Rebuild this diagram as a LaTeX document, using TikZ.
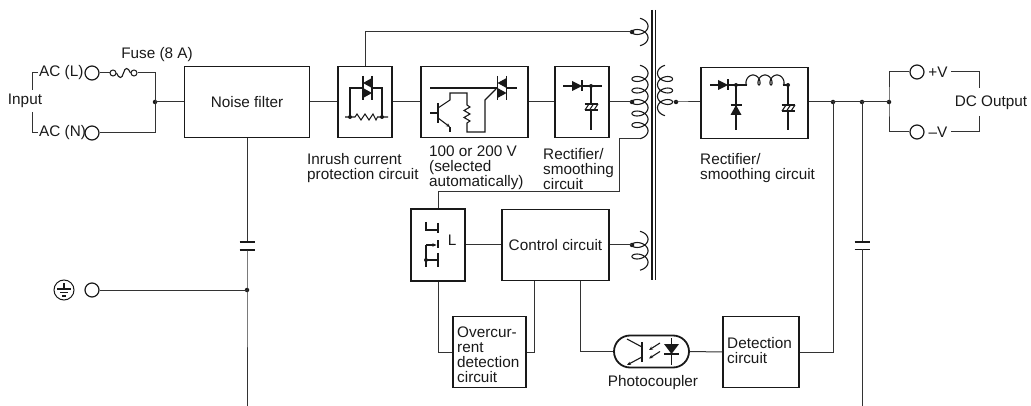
\documentclass[tikz,border=0pt]{standalone}
\usepackage{fontspec}
\setmainfont{Liberation Sans}
\usetikzlibrary{arrows.meta}
\newcommand\mytriac[1]{%
  \begin{scope}[shift={#1}]
    \draw[sym] (-4.5,-12) -- (-4.5,12);
    \draw[sym] (4.5,-12) -- (4.5,12);
    \fill[black!90] (4.5,-10) -- (4.5,0) -- (-4.5,-5) -- cycle;
    \fill[black!90] (-4.5,0) -- (-4.5,10) -- (4.5,5) -- cycle;
  \end{scope}}
\newcommand\myhcap[1]{%
  \begin{scope}[shift={#1}]
    \draw[sym] (-6.5,0) -- (6.5,0);
    \draw[sym] (-6.5,6) -- (6.5,6);
    \draw[sym] (-6,6) -- (-2,0);
    \draw[sym] (-1.5,6) -- (2.5,0);
    \draw[sym] (3,6) -- (7,0);
  \end{scope}}
\begin{document}
\begin{tikzpicture}[x=1pt,y=-1pt,
  box/.style={draw=black!90, line width=1.8pt, inner sep=0pt},
  wire/.style={draw=black!80, line width=1pt},
  sym/.style={draw=black!90, line width=1.1pt},
  bar/.style={draw=black!90, line width=1.8pt},
  term/.style={circle, draw=black!90, line width=1.2pt, minimum size=14pt, inner sep=0pt},
  small/.style={circle, draw=black!90, line width=1pt, minimum size=6pt, inner sep=0pt},
  lbl/.style={font=\fontsize{15.3}{15}\selectfont, inner sep=0pt, align=left, text=black!90},
  dotn/.style={circle, fill=black!90, minimum size=4.5pt, inner sep=0pt},
  tip/.style={-{Stealth[length=4pt,width=3.5pt]}},
]
\useasboundingbox (0,0) rectangle (1031,406);

% ---------- input side ----------
\node[lbl] (inp) at (25,101) {Input};
\node[lbl, anchor=west] (tacl) at (39,73) {AC (L)};
\node[lbl, anchor=west] (tacn) at (39,133) {AC (N)};
\draw[wire] (38,73) -- (32,73) -- (32,90);
\draw[wire] (32,112) -- (32,133) -- (38,133);
\node[term] (acl) at (92,73) {};
\node[term] (acn) at (92,133) {};
\node[small] (f1) at (113,73) {};
\node[small] (f2) at (134,73) {};
\node[lbl] (fuse) at (157,55) {Fuse (8 A)};
\draw[wire] (acl.east) -- (f1.west);
\draw[sym] (f1.east) .. controls (119,79) and (122,79) .. (123.5,73) .. controls (125,67) and (128,67) .. (f2.west);
\coordinate (ft) at (155,73);
\node[dotn] (j1) at (155,102) {};
\draw[wire] (f2.east) -- (ft) -- (j1.center);
\draw[wire] (j1.center) |- (acn.east);

% ---------- boxes ----------
\node[box, lbl, minimum width=125pt, minimum height=71pt] (nf) at (247,102) {Noise filter};
\node[box, minimum width=54pt, minimum height=71pt] (inr) at (365,102) {};
\node[box, minimum width=107pt, minimum height=71pt] (sel) at (474.5,102) {};
\node[box, minimum width=54pt, minimum height=71pt] (rec1) at (582,102) {};
\node[box, minimum width=107pt, minimum height=71pt] (rec2) at (754.5,103) {};
\node[box, minimum width=54pt, minimum height=72pt] (lbox) at (438,245) {};
\node[box, lbl, minimum width=107pt, minimum height=71pt] (ctrl) at (555.5,245) {\raisebox{-4pt}{Control circuit}};
\node[box, minimum width=73pt, minimum height=71pt] (oc) at (489.5,352) {};
\node[box, minimum width=75pt, minimum height=32pt, rounded corners=16pt] (pc) at (651.5,351.5) {};
\node[box, minimum width=76pt, minimum height=71pt] (det) at (761,352) {};

\node[lbl, anchor=west] (toc) at (457,355) {Overcur-\\rent\\detection\\circuit};
\node[lbl, anchor=west] (tdet) at (727,351) {Detection\\circuit};
\node[lbl] (tpc) at (653,383) {Photocoupler};
\node[lbl, anchor=west] (tinr) at (307,168) {Inrush current\\protection circuit};
\node[lbl, anchor=west] (tsel) at (429,168) {100 or 200 V\\(selected\\automatically)};
\node[lbl, anchor=west] (trec1) at (543,169) {Rectifier/\\smoothing\\circuit};
\node[lbl, anchor=west] (trec2) at (700,168) {Rectifier/\\smoothing circuit};

% ---------- main chain ----------
\draw[wire] (j1.center) -- (nf.west);
\draw[wire] (nf.east) -- (inr.west);
\draw[wire] (inr.east) -- (sel.west);
\draw[wire] (sel.east) -- (rec1.west);
\node[dotn] (pd) at (632,102) {};
\draw[wire] (rec1.east) -- (pd.center);
\node[dotn] (ad) at (632,32) {};
\draw[wire] (inr.north) |- (ad.center);

% ---------- earth / noise filter leg ----------
\node[circle, draw=black!90, line width=1pt, minimum size=20pt, inner sep=0pt] (pe) at (64,290) {};
\draw[sym] (64,283) -- (64,289);
\draw[sym] (57,289) -- (71,289);
\draw[sym] (60,292.5) -- (68,292.5);
\draw[sym] (62,296) -- (66,296);
\node[term] (ge) at (92,290) {};
\node[dotn] (jg) at (247,290) {};
\coordinate (ca) at (247,242);
\coordinate (cb) at (247,250);
\coordinate (nb) at (247,406);
\draw[wire] (nf.south) -- (ca);
\draw[bar] (239.5,242) -- (254.5,242);
\draw[bar] (239.5,250) -- (254.5,250);
\draw[wire] (cb) -- (jg.center) -- (nb);
\draw[wire] (ge.east) -- (jg.center);

% ---------- transformer ----------
\draw[line width=1.4pt, black!90] (652,10) -- (652,280);
\draw[line width=1.4pt, black!90] (655.7,10) -- (655.7,280);
\draw[sym] plot[domain=-270:270, samples=120, variable=\t] ({640-8*cos(\t)}, {32+0.0319444*\t-5*sin(\t)});
\draw[sym] plot[domain=-270:1710, samples=400, variable=\t] ({640-8*cos(\t)}, {79+0.0319444*\t-5*sin(\t)});
\draw[sym] plot[domain=-270:630, samples=200, variable=\t] ({640-8*cos(\t)}, {245+0.0319444*\t-5*sin(\t)});
\draw[sym] plot[domain=-270:990, samples=260, variable=\t] ({665+7.5*cos(\t)}, {79+0.0319444*\t-5*sin(\t)});
\coordinate (pb) at (640,138.6);
\coordinate (r1) at (619,192);
\draw[wire] (pb) -| (r1) -| (lbox.north);
\node[dotn] (sd) at (676,102) {};
\draw[wire] (672.5,102) -- (sd.center) -- (sd.center -| rec2.west);
\node[dotn] (cd) at (632,245) {};
\draw[wire] (lbox.east) -- (ctrl.west);
\draw[wire] (ctrl.east) -- (cd.center);

% ---------- control section ----------
\draw[wire] (lbox.south) |- (oc.west);
\coordinate (c1) at (534,280.5);
\coordinate (c2) at (580,280.5);
\draw[wire] (oc.east) -| (c1);
\draw[wire] (c2) |- (pc.west);
\draw[wire] (pc.east) -- (det.west);

% ---------- output ----------
\node[dotn] (d1) at (833,102) {};
\node[dotn] (d2) at (862,102) {};
\node[dotn] (d3) at (889,102) {};
\draw[wire] (d3.center -| rec2.east) -- (d3.center);
\draw[wire] (det.east) -| (d1.center);
\draw[wire] (d2.center) -- (862,242);
\draw[bar] (854.5,242) -- (869.5,242);
\draw[bar] (854.5,249.5) -- (869.5,249.5);
\draw[wire] (862,249.5) -- (862,406);
\node[term] (vp) at (917,72) {};
\node[term] (vm) at (917,132) {};
\draw[wire] (vp.west) -| (d3.center) |- (vm.west);
\node[lbl] (tvp) at (938,72) {+V};
\node[lbl] (tvm) at (938,132) {\char"2013V};
\node[lbl] (tdc) at (991,103) {DC Output};
\draw[wire] (951,72) -- (979,72) -- (979,88);
\draw[wire] (979,116) -- (979,132) -- (951,132);

% ---------- inrush internals ----------
\mytriac{(367.5,88)}
\draw[sym] (363,88) -- (350,88) -- (350,117);
\draw[sym] (372,88) -- (382,88) -- (382,117);
\draw[sym] (345,117) -- (355,117) -- (357,114) -- (361,120) -- (365,114) -- (369,120) -- (373,114) -- (376,120) -- (377.5,117) -- (388,117);
\fill[black!90] (350,117) circle (2pt) (382,117) circle (2pt);

% ---------- 100/200 V internals ----------
\mytriac{(502,88)}
\draw[sym] (430,88) -- (497.5,88);
\draw[sym] (506.5,88) -- (517,88);
\draw[bar] (438,103) -- (438,123);
\draw[sym] (430,113) -- (438,113);
\draw[sym] (438,108) -- (450,100) -- (450,93) -- (467,93) -- (467,105) -- (470,107) -- (464,110.5) -- (470,114) -- (464,117.5) -- (470,121) -- (467,123) -- (467,132) -- (485,132) -- (485,100) -- (496,89);
\draw[sym, tip] (438,118) -- (450,127);
\draw[sym] (450,127) -- (450,132);

% ---------- rectifier 1 internals ----------
\draw[sym] (563,86) -- (572,86);
\fill[black!90] (572,81) -- (572,91) -- (582,86) -- cycle;
\draw[bar] (582,80.5) -- (582,91.5);
\draw[sym] (582,86) -- (602,86);
\fill[black!90] (591,86) circle (2pt);
\draw[sym] (591,86) -- (591,104);
\draw[sym] (591,110) -- (591,130);
\myhcap{(591,104)}

% ---------- rectifier 2 internals ----------
\draw[sym] (710,85) -- (718,85);
\fill[black!90] (718,80) -- (718,90) -- (728,85) -- cycle;
\draw[bar] (728,79.5) -- (728,90.5);
\draw[sym] (728,85) -- (747,85);
\fill[black!90] (736,85) circle (2pt);
\draw[sym] (736,85) -- (736,130);
\fill[black!90] (730.5,115) -- (741.5,115) -- (736,105) -- cycle;
\draw[bar] (730.5,105) -- (741.5,105);
\draw[sym] plot[domain=0:1080, samples=200, variable=\t] ({747+0.0333333*\t-3.5*sin(\t)}, {85-5*(1-cos(\t))});
\draw[sym] (783,85) -- (788,85);
\fill[black!90] (788,85) circle (2pt);
\draw[sym] (788,85) -- (788,105);
\draw[sym] (788,111) -- (788,130);
\myhcap{(788,105)}

% ---------- L box internals ----------
\draw[bar] (438,223) -- (438,233);
\draw[bar] (438,240.5) -- (438,248.5);
\draw[bar] (438,253) -- (438,267);
\draw[sym] (426,222) -- (426,230) -- (437,230);
\draw[sym, tip] (426,245) -- (436.5,245);
\draw[sym] (426,245) -- (426,267);
\draw[sym] (426,260) -- (438,260);
\fill[black!90] (426,260) circle (2pt);
\node[lbl] (tL) at (452,240) {L};

% ---------- photocoupler internals ----------
\draw[bar] (642,342) -- (642,362);
\draw[sym] (642,347) -- (627,339);
\draw[sym, tip] (642,357) -- (627,365);
\draw[sym, tip] (660,343) -- (649,350);
\draw[sym, tip] (660,351.5) -- (649,358.5);
\draw[sym] (671.5,338) -- (671.5,365);
\fill[black!90] (664,344) -- (679,344) -- (671.5,354) -- cycle;
\draw[bar] (664,354) -- (679,354);
\end{tikzpicture}
\end{document}
